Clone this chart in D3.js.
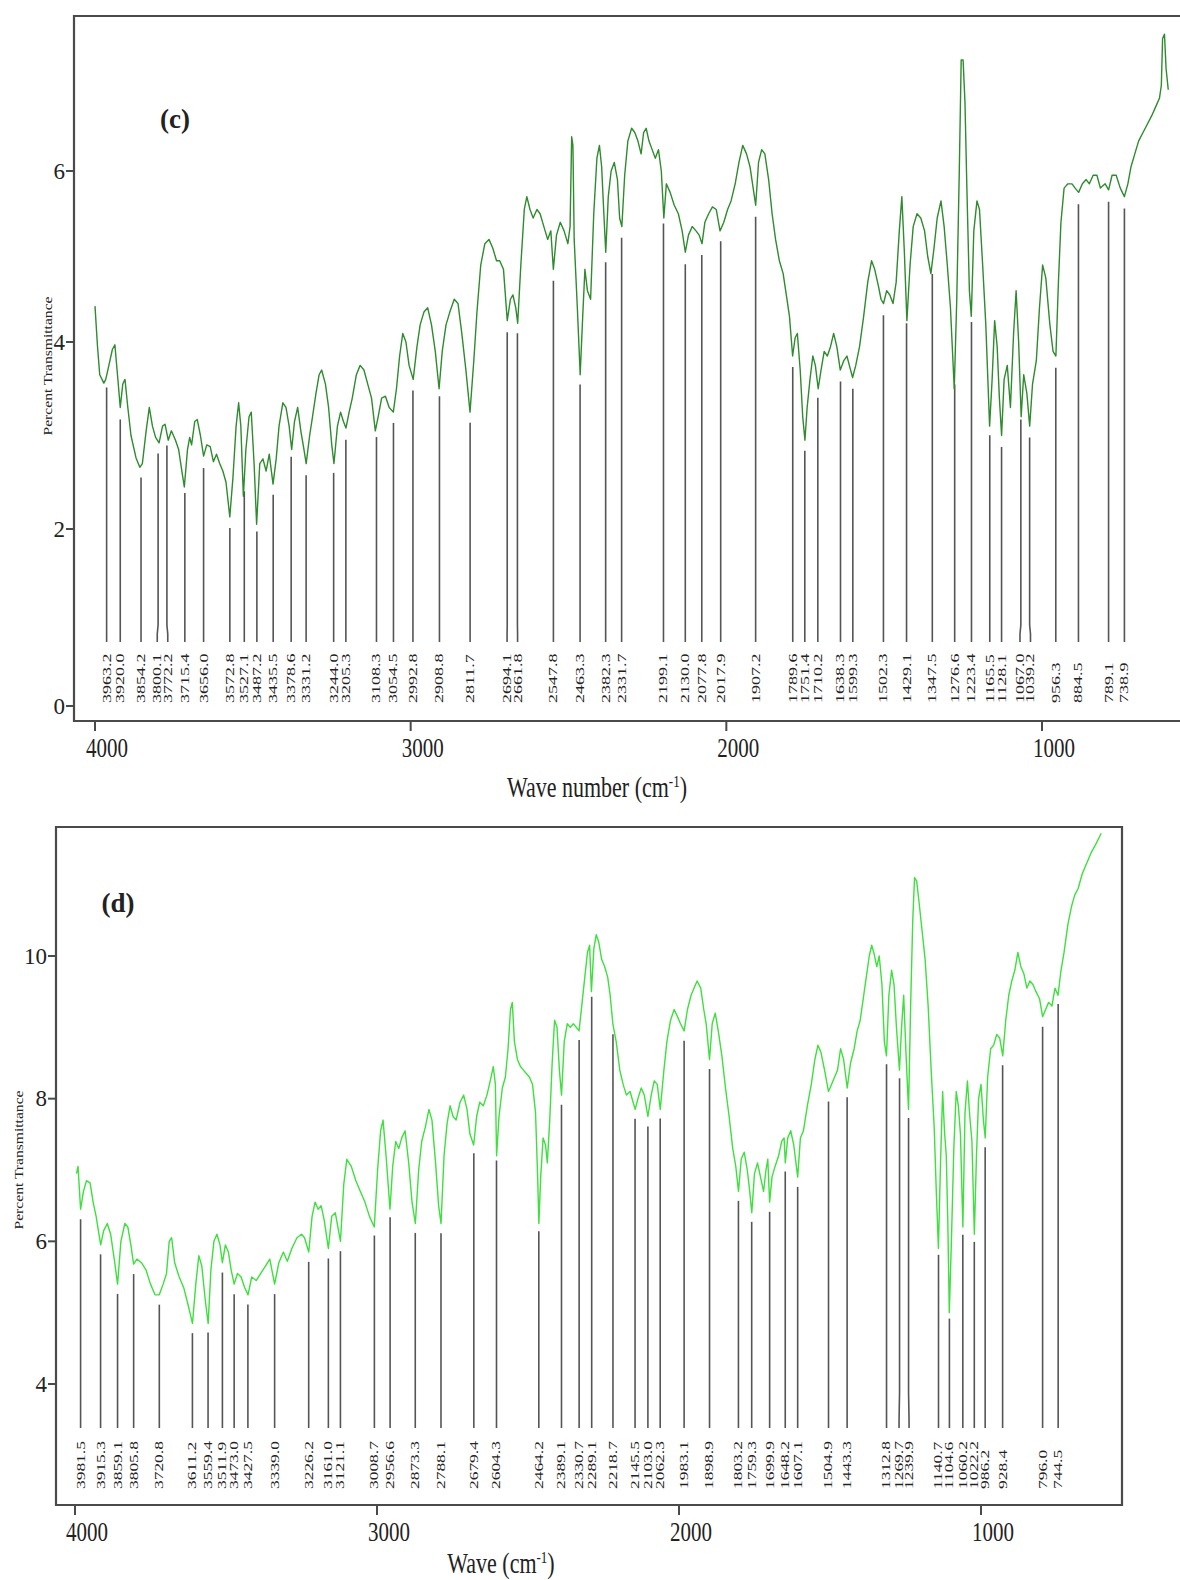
<!DOCTYPE html>
<html>
<head>
<meta charset="utf-8">
<script src="https://cdn.jsdelivr.net/npm/d3@7/dist/d3.min.js"></script>
<style>
  html, body { margin: 0; padding: 0; background: #fff; }
  svg { display: block; }
  text { font-family: "Liberation Serif", "Times New Roman", serif; fill: #222; }
</style>
</head>
<body>
<svg id="chart" width="1180" height="1580"></svg>
<script>
// ---------------- DATA ----------------
const xTicks = [4000, 3000, 2000, 1000];
const cYTicks = [0, 2, 4, 6];
const dYTicks = [4, 6, 8, 10];

// Panel (c) spectrum: [wavenumber, percent transmittance]
const cSpectrum = [
[4000,4.42],[3992,3.95],[3985,3.65],[3972,3.56],[3966,3.60],[3956,3.75],[3945,3.92],[3937,3.97],[3928,3.62],[3920,3.30],
[3912,3.55],[3905,3.60],[3896,3.30],[3886,3.00],[3870,2.76],[3858,2.66],[3850,2.70],[3838,3.05],[3828,3.30],[3818,3.10],
[3808,2.98],[3797,2.92],[3786,3.10],[3778,3.12],[3768,2.95],[3758,3.05],[3745,2.95],[3735,2.85],[3724,2.60],[3717,2.45],
[3707,2.85],[3700,2.98],[3694,2.90],[3684,3.15],[3676,3.17],[3666,3.00],[3656,2.78],[3646,2.90],[3635,2.88],[3625,2.72],
[3615,2.80],[3605,2.70],[3595,2.62],[3585,2.50],[3573,2.13],[3563,2.55],[3553,3.10],[3545,3.35],[3538,3.10],[3530,2.35],
[3522,2.85],[3512,3.20],[3505,3.25],[3496,2.70],[3488,2.05],[3478,2.70],[3468,2.75],[3458,2.62],[3448,2.80],[3436,2.48],
[3426,2.75],[3417,3.10],[3405,3.35],[3395,3.30],[3385,3.10],[3377,2.85],[3368,3.15],[3358,3.30],[3348,3.05],[3338,2.85],
[3331,2.70],[3320,3.00],[3311,3.20],[3300,3.45],[3290,3.65],[3282,3.70],[3270,3.55],[3260,3.30],[3250,2.90],[3243,2.70],
[3232,3.10],[3222,3.25],[3213,3.15],[3205,3.08],[3195,3.25],[3185,3.40],[3172,3.65],[3160,3.75],[3148,3.70],[3136,3.55],
[3124,3.40],[3112,3.05],[3103,3.20],[3092,3.40],[3080,3.42],[3068,3.30],[3055,3.25],[3045,3.50],[3035,3.85],[3025,4.10],
[3015,4.00],[3005,3.75],[2992,3.60],[2980,3.95],[2970,4.20],[2958,4.35],[2946,4.40],[2934,4.20],[2922,3.90],[2910,3.50],
[2900,3.90],[2888,4.20],[2876,4.35],[2862,4.50],[2850,4.45],[2838,4.10],[2825,3.70],[2812,3.25],[2800,3.80],[2790,4.35],
[2778,4.90],[2765,5.15],[2752,5.20],[2740,5.10],[2728,4.95],[2718,4.95],[2706,4.85],[2694,4.25],[2684,4.50],[2676,4.55],
[2667,4.40],[2661,4.22],[2651,4.90],[2640,5.55],[2632,5.70],[2622,5.55],[2612,5.45],[2600,5.55],[2590,5.50],[2578,5.35],
[2566,5.20],[2556,5.30],[2548,4.85],[2538,5.25],[2526,5.40],[2514,5.30],[2502,5.15],[2495,5.35],[2490,6.40],[2486,6.30],
[2482,5.20],[2472,4.40],[2463,3.65],[2455,4.30],[2448,4.85],[2440,4.60],[2430,4.50],[2420,5.50],[2410,6.15],[2402,6.30],
[2395,6.05],[2388,5.50],[2382,5.05],[2374,5.70],[2365,6.00],[2355,6.10],[2345,5.90],[2338,5.45],[2331,5.35],[2322,5.95],
[2312,6.35],[2300,6.50],[2290,6.45],[2280,6.35],[2270,6.20],[2262,6.45],[2254,6.50],[2245,6.35],[2235,6.25],[2225,6.15],
[2215,6.25],[2206,6.00],[2198,5.45],[2190,5.85],[2178,5.75],[2165,5.60],[2152,5.50],[2140,5.30],[2130,5.05],[2120,5.25],
[2108,5.35],[2096,5.30],[2086,5.25],[2077,5.15],[2068,5.40],[2056,5.50],[2044,5.58],[2032,5.55],[2020,5.30],[2008,5.40],
[1996,5.55],[1985,5.65],[1972,5.85],[1960,6.10],[1948,6.30],[1936,6.20],[1925,6.05],[1915,5.80],[1907,5.60],[1898,6.10],
[1888,6.25],[1878,6.20],[1866,5.90],[1855,5.50],[1844,5.20],[1832,4.95],[1820,4.80],[1810,4.55],[1800,4.30],[1790,3.85],
[1782,4.05],[1775,4.10],[1766,3.70],[1758,3.20],[1751,2.95],[1744,3.30],[1735,3.60],[1726,3.85],[1718,3.75],[1709,3.50],
[1700,3.70],[1690,3.90],[1680,3.85],[1670,3.95],[1660,4.10],[1650,3.95],[1639,3.70],[1628,3.80],[1618,3.85],[1608,3.72],
[1600,3.62],[1590,3.75],[1578,3.95],[1565,4.30],[1552,4.70],[1540,4.95],[1530,4.85],[1518,4.65],[1510,4.50],[1502,4.45],
[1492,4.60],[1482,4.55],[1472,4.45],[1462,4.70],[1452,5.30],[1444,5.70],[1436,5.05],[1428,4.25],[1418,4.90],[1408,5.35],
[1396,5.50],[1384,5.45],[1372,5.30],[1362,5.00],[1352,4.80],[1342,5.10],[1332,5.45],[1320,5.65],[1310,5.35],[1300,4.90],
[1290,4.40],[1278,3.50],[1270,4.50],[1262,6.00],[1256,7.30],[1250,7.30],[1244,6.80],[1238,5.80],[1230,4.60],[1224,4.30],
[1216,5.30],[1206,5.65],[1198,5.55],[1188,4.90],[1178,4.20],[1166,3.10],[1158,3.60],[1150,4.25],[1142,3.95],[1135,3.40],
[1128,3.00],[1120,3.60],[1110,3.75],[1100,3.30],[1090,4.10],[1082,4.60],[1074,4.00],[1066,3.20],[1058,3.65],[1048,3.45],
[1039,3.10],[1030,3.55],[1018,3.80],[1008,4.40],[998,4.90],[988,4.75],[975,4.20],[965,3.90],[956,3.85],[948,4.70],
[940,5.40],[930,5.80],[918,5.85],[905,5.85],[895,5.80],[884,5.75],[872,5.85],[860,5.90],[850,5.85],[838,5.95],
[826,5.95],[815,5.80],[800,5.85],[789,5.78],[778,5.95],[765,5.95],[752,5.80],[739,5.70],[728,5.85],[718,6.05],
[706,6.20],[694,6.35],[680,6.45],[666,6.55],[652,6.65],[640,6.75],[628,6.85],[622,7.00],[618,7.55],[612,7.60],
[607,7.20],[600,6.95]
];

const cPeaks = [3963.2,3920.0,3854.2,3800.1,3772.2,3715.4,3656.0,3572.8,3527.1,3487.2,3435.5,3378.6,3331.2,3244.0,3205.3,
3108.3,3054.5,2992.8,2908.8,2811.7,2694.1,2661.8,2547.8,2463.3,2382.3,2331.7,2199.1,2130.0,2077.8,2017.9,1907.2,
1789.6,1751.4,1710.2,1638.3,1599.3,1502.3,1429.1,1347.5,1276.6,1223.4,1165.5,1128.1,1067.0,1039.2,956.3,884.5,789.1,738.9];

// Panel (d) spectrum
const dSpectrum = [
[3995,6.95],[3990,7.05],[3981.5,6.45],[3972,6.70],[3962,6.85],[3950,6.82],[3940,6.55],[3930,6.35],[3915,5.95],[3905,6.15],
[3893,6.25],[3882,6.10],[3870,5.75],[3859,5.40],[3848,6.00],[3835,6.25],[3825,6.20],[3815,5.95],[3806,5.68],[3795,5.75],
[3780,5.70],[3765,5.60],[3750,5.40],[3735,5.25],[3721,5.25],[3708,5.40],[3697,5.55],[3688,6.00],[3680,6.05],[3670,5.70],
[3655,5.50],[3640,5.35],[3625,5.10],[3611,4.85],[3600,5.40],[3590,5.80],[3580,5.65],[3568,5.15],[3559,4.85],[3550,5.60],
[3540,6.00],[3530,6.10],[3520,5.95],[3512,5.70],[3502,5.95],[3492,5.85],[3483,5.60],[3473,5.40],[3462,5.55],[3450,5.50],
[3438,5.35],[3427,5.25],[3415,5.50],[3400,5.45],[3385,5.55],[3370,5.65],[3355,5.75],[3339,5.40],[3325,5.70],[3310,5.85],
[3297,5.72],[3282,5.90],[3265,6.05],[3250,6.10],[3240,6.05],[3226,5.85],[3215,6.35],[3205,6.55],[3195,6.45],[3185,6.50],
[3175,6.30],[3161,5.90],[3150,6.35],[3138,6.40],[3121,6.00],[3110,6.80],[3100,7.15],[3085,7.05],[3070,6.85],[3055,6.70],
[3040,6.55],[3025,6.35],[3009,6.20],[2998,7.00],[2988,7.55],[2980,7.70],[2970,7.20],[2957,6.45],[2948,7.05],[2938,7.40],
[2928,7.30],[2918,7.45],[2907,7.55],[2895,7.10],[2884,6.55],[2873,6.25],[2862,7.00],[2852,7.40],[2840,7.60],[2828,7.85],
[2818,7.70],[2806,7.10],[2796,6.50],[2788,6.25],[2778,7.20],[2768,7.65],[2758,7.90],[2748,7.75],[2738,7.70],[2725,7.95],
[2713,8.05],[2702,7.85],[2692,7.50],[2680,7.35],[2670,7.75],[2660,7.95],[2648,7.90],[2636,8.05],[2625,8.25],[2615,8.45],
[2608,8.20],[2604,7.20],[2596,7.75],[2585,8.15],[2575,8.30],[2566,8.70],[2558,9.25],[2552,9.35],[2545,8.80],[2535,8.55],
[2525,8.45],[2515,8.40],[2505,8.35],[2495,8.30],[2485,8.20],[2475,7.80],[2468,6.90],[2464,6.25],[2458,6.90],[2450,7.45],
[2442,7.35],[2436,7.10],[2428,7.70],[2420,8.50],[2412,9.10],[2404,9.00],[2396,8.40],[2389,8.05],[2380,8.80],[2370,9.05],
[2360,9.00],[2350,9.05],[2340,9.00],[2331,8.95],[2322,9.30],[2312,9.70],[2303,10.05],[2296,10.15],[2290,9.50],[2282,10.10],
[2274,10.30],[2266,10.20],[2256,9.95],[2246,9.85],[2236,9.70],[2228,9.45],[2219,9.05],[2208,8.80],[2196,8.40],[2185,8.20],
[2174,8.05],[2162,8.10],[2152,7.95],[2145,7.85],[2136,8.00],[2125,8.15],[2115,8.05],[2103,7.75],[2092,8.05],[2082,8.25],
[2072,8.20],[2062,7.85],[2050,8.40],[2040,8.80],[2028,9.10],[2016,9.25],[2005,9.15],[1995,9.05],[1983,8.95],[1972,9.25],
[1960,9.45],[1950,9.55],[1940,9.65],[1928,9.55],[1918,9.25],[1910,9.05],[1899,8.55],[1890,9.05],[1880,9.20],[1870,8.95],
[1858,8.60],[1846,8.15],[1834,7.75],[1822,7.30],[1812,7.05],[1803,6.70],[1794,7.15],[1784,7.25],[1774,7.00],[1767,6.75],
[1759,6.40],[1750,6.95],[1740,7.10],[1730,6.90],[1720,6.70],[1712,7.00],[1706,7.15],[1700,6.55],[1692,6.90],[1682,7.05],
[1670,7.20],[1660,7.40],[1652,7.45],[1648,7.10],[1640,7.45],[1630,7.55],[1620,7.35],[1607,6.90],[1598,7.45],[1588,7.55],
[1575,7.90],[1562,8.20],[1550,8.55],[1540,8.75],[1530,8.65],[1518,8.40],[1505,8.10],[1495,8.20],[1485,8.30],[1475,8.40],
[1465,8.70],[1455,8.55],[1443,8.15],[1432,8.50],[1420,8.70],[1410,8.95],[1400,9.10],[1390,9.40],[1380,9.70],[1370,10.00],
[1362,10.15],[1355,10.05],[1345,9.85],[1337,10.00],[1328,9.60],[1320,8.80],[1313,8.60],[1305,9.45],[1296,9.80],[1288,9.60],
[1280,9.00],[1270,8.40],[1263,9.00],[1256,9.45],[1248,8.60],[1240,7.85],[1233,9.30],[1226,10.50],[1220,11.10],[1213,11.05],
[1205,10.75],[1195,10.35],[1185,9.95],[1175,9.30],[1165,8.40],[1155,7.60],[1148,6.70],[1141,5.90],[1134,7.10],[1127,8.10],
[1121,7.55],[1115,7.20],[1110,6.30],[1105,5.00],[1098,6.00],[1090,7.30],[1082,8.10],[1075,7.90],[1068,7.50],[1060,6.20],
[1053,7.80],[1045,8.25],[1038,7.80],[1030,7.40],[1022,6.10],[1015,7.20],[1008,8.00],[1000,8.20],[992,7.70],[986,7.45],
[978,8.30],[968,8.70],[958,8.75],[948,8.90],[938,8.85],[928,8.60],[918,9.10],[908,9.45],[898,9.65],[888,9.80],
[878,10.05],[868,9.85],[858,9.75],[848,9.55],[838,9.65],[828,9.60],[818,9.50],[806,9.40],[796,9.15],[786,9.25],
[776,9.35],[765,9.30],[755,9.55],[745,9.45],[735,9.80],[725,10.05],[712,10.45],[700,10.70],[690,10.85],[678,10.95],
[665,11.15],[655,11.25],[645,11.35],[635,11.45],[622,11.55],[610,11.65],[602,11.72]
];

const dPeaks = [3981.5,3915.3,3859.1,3805.8,3720.8,3611.2,3559.4,3511.9,3473.0,3427.5,3339.0,3226.2,3161.0,3121.1,3008.7,
2956.6,2873.3,2788.1,2679.4,2604.3,2464.2,2389.1,2330.7,2289.1,2218.7,2145.5,2103.0,2062.3,1983.1,1898.9,1803.2,1759.3,
1699.9,1648.2,1607.1,1504.9,1443.3,1312.8,1269.7,1239.9,1140.7,1104.6,1060.2,1022.2,986.2,928.4,796.0,744.5];

// ---------------- DRAWING ----------------
const svg = d3.select("#chart");
svg.append("rect").attr("width", 1180).attr("height", 1580).attr("fill", "#fff");

function interp(spec, w) {
  const s = spec.slice().sort((a, b) => a[0] - b[0]);
  const i = d3.bisector(d => d[0]).left(s, w);
  if (i <= 0) return s[0][1];
  if (i >= s.length) return s[s.length - 1][1];
  const a = s[i - 1], b = s[i];
  return a[1] + (b[1] - a[1]) * (w - a[0]) / (b[0] - a[0]);
}

// spread crowded label positions so they keep a minimum gap
function spread(xs, gap) {
  const idx = xs.map((x, i) => i).sort((a, b) => xs[a] - xs[b]);
  let groups = idx.map(i => ({ members: [i], sum: xs[i] }));
  const start = g => g.sum / g.members.length - (g.members.length - 1) * gap / 2;
  let changed = true;
  while (changed) {
    changed = false;
    for (let k = 1; k < groups.length; k++) {
      const a = groups[k - 1], b = groups[k];
      if (start(a) + a.members.length * gap > start(b) + 1e-6) {
        a.members = a.members.concat(b.members);
        a.sum += b.sum;
        groups.splice(k, 1);
        changed = true;
        break;
      }
    }
  }
  const out = new Array(xs.length);
  groups.forEach(g => { const s = start(g); g.members.forEach((m, j) => out[m] = s + j * gap); });
  return out;
}

function panel(cfg) {
  const g = svg.append("g");
  const x = d3.scaleLinear().domain([4000, 1000]).range(cfg.xRange);
  const y = d3.scaleLinear().domain(cfg.yDomain).range(cfg.yRange);

  // frame
  const fr = cfg.frame;
  g.append("path")
    .attr("d", cfg.closed
      ? `M${fr.l},${fr.t}H${fr.r}V${fr.b}H${fr.l}Z`
      : `M${fr.r},${fr.t}H${fr.l}V${fr.b}H${fr.r}`)
    .attr("fill", "none").attr("stroke", "#4a4a4a").attr("stroke-width", 2.2);

  // y ticks
  cfg.yTicks.forEach(v => {
    g.append("line").attr("x1", fr.l - 8).attr("x2", fr.l).attr("y1", y(v)).attr("y2", y(v))
      .attr("stroke", "#4a4a4a").attr("stroke-width", 2);
    g.append("text").attr("x", fr.l - 9).attr("y", y(v)).attr("dy", "0.33em")
      .attr("text-anchor", "end").attr("font-size", 23).text(v);
  });
  // x ticks
  xTicks.forEach(v => {
    g.append("line").attr("x1", x(v)).attr("x2", x(v)).attr("y1", fr.b).attr("y2", fr.b + 10)
      .attr("stroke", "#4a4a4a").attr("stroke-width", 2);
    g.append("text").attr("transform", `translate(${x(v) + 12},${cfg.xLabelBase}) scale(1,1.3)`)
      .attr("text-anchor", "middle").attr("font-size", 21).text(v);
  });

  // peak markers
  const px = cfg.peaks.map(p => x(p));
  const lx = spread(px, cfg.gap);
  cfg.peaks.forEach((p, i) => {
    const top = y(interp(cfg.spec, p)) + cfg.topGap;
    g.append("path")
      .attr("d", `M${px[i]},${top}V${cfg.bend1}L${lx[i]},${cfg.bend2}V${cfg.lineEnd}`)
      .attr("fill", "none").attr("stroke", "#555").attr("stroke-width", 1.6);
    g.append("text")
      .attr("transform", `translate(${lx[i]},${cfg.labelBottom}) rotate(-90) scale(${cfg.labelStretch},1)`)
      .attr("dy", "0.33em").attr("font-size", 12).attr("fill", "#333")
      .text(p.toFixed(1));
  });

  // spectrum
  const line = d3.line().x(d => x(d[0])).y(d => y(d[1]));
  g.append("path").datum(cfg.spec).attr("d", line)
    .attr("fill", "none").attr("stroke", cfg.color).attr("stroke-width", 1.4)
    .attr("stroke-linejoin", "round");

  // y label
  g.append("text").attr("transform", `translate(${cfg.yLab[0]},${cfg.yLab[1]}) rotate(-90) scale(1.2,1)`)
    .attr("text-anchor", "middle").attr("dy", "0.33em").attr("font-size", 13).attr("fill", "#333")
    .text("Percent Transmittance");

  // panel tag
  g.append("text").attr("x", cfg.tag[0]).attr("y", cfg.tag[1]).attr("text-anchor", "middle")
    .attr("font-size", 27).attr("font-weight", "bold").attr("fill", "#111").text(cfg.tagText);

  // x title
  const t = g.append("text").attr("transform", `translate(${cfg.xTitle[0]},${cfg.xTitle[1]}) scale(1,1.3)`)
    .attr("text-anchor", "middle").attr("font-size", 22);
  t.append("tspan").text(cfg.xTitleText + " (cm");
  t.append("tspan").attr("font-size", 13).attr("dy", -8).text("-1");
  t.append("tspan").attr("dy", 8).text(")");
}

panel({
  spec: cSpectrum, peaks: cPeaks, color: "#2e8b2e",
  xRange: [95, 1042], yDomain: [0, 2, 4, 6], yRange: [706, 529, 342, 171],
  frame: { l: 74, t: 16, r: 1182, b: 721 }, closed: false,
  yTicks: cYTicks, xLabelBase: 757,
  gap: 10.5, topGap: 12, bend1: 625, bend2: 634, lineEnd: 642, labelBottom: 703, labelStretch: 1.5,
  yLab: [48, 366], tag: [175, 128], tagText: "(c)",
  xTitle: [597, 797], xTitleText: "Wave number"
});

panel({
  spec: dSpectrum, peaks: dPeaks, color: "#3de03d",
  xRange: [75, 981], yDomain: [4, 10], yRange: [1384, 956],
  frame: { l: 56, t: 827, r: 1122, b: 1505 }, closed: true,
  yTicks: dYTicks, xLabelBase: 1541,
  gap: 10, topGap: 10, bend1: 1392, bend2: 1420, lineEnd: 1428, labelBottom: 1489, labelStretch: 1.45,
  yLab: [19, 1160], tag: [118, 912], tagText: "(d)",
  xTitle: [501, 1573], xTitleText: "Wave"
});
</script>
</body>
</html>
